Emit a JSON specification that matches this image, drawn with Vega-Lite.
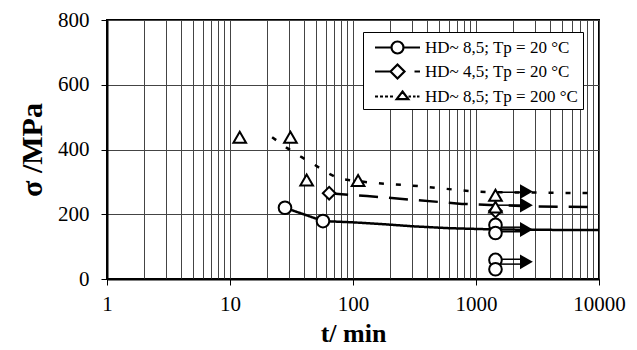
{
  "$schema": "https://vega.github.io/schema/vega-lite/v6.json",
  "autosize": {"type": "none"},
  "padding": {"left": 107, "top": 20, "right": 38, "bottom": 71},
  "width": 492,
  "height": 259,
  "background": "white",
  "config": {
    "view": {"stroke": "black", "strokeWidth": 2},
    "font": "Liberation Serif",
    "axis": {
      "labelFont": "Liberation Serif",
      "labelFontSize": 21,
      "labelColor": "black",
      "titleFont": "Liberation Serif",
      "titleFontWeight": "bold",
      "titleColor": "black",
      "domainColor": "black",
      "domainWidth": 2,
      "tickColor": "black",
      "tickWidth": 1,
      "tickSize": 6,
      "gridColor": "#444444",
      "gridWidth": 1,
      "gridOpacity": 1
    }
  },
  "resolve": {"scale": {"shape": "independent"}},
  "datasets": {
    "curves": [
      {"series": "HD~ 8,5; Tp = 20 °C", "t": 28, "v": 220},
      {"series": "HD~ 8,5; Tp = 20 °C", "t": 57, "v": 179},
      {"series": "HD~ 8,5; Tp = 20 °C", "t": 100, "v": 175},
      {"series": "HD~ 8,5; Tp = 20 °C", "t": 166, "v": 170},
      {"series": "HD~ 8,5; Tp = 20 °C", "t": 300, "v": 163},
      {"series": "HD~ 8,5; Tp = 20 °C", "t": 600, "v": 157},
      {"series": "HD~ 8,5; Tp = 20 °C", "t": 1440, "v": 153},
      {"series": "HD~ 8,5; Tp = 20 °C", "t": 3000, "v": 152},
      {"series": "HD~ 8,5; Tp = 20 °C", "t": 10000, "v": 151},
      {"series": "HD~ 4,5; Tp = 20 °C", "t": 64, "v": 265},
      {"series": "HD~ 4,5; Tp = 20 °C", "t": 130, "v": 256},
      {"series": "HD~ 4,5; Tp = 20 °C", "t": 240, "v": 248},
      {"series": "HD~ 4,5; Tp = 20 °C", "t": 770, "v": 232},
      {"series": "HD~ 4,5; Tp = 20 °C", "t": 1440, "v": 228},
      {"series": "HD~ 4,5; Tp = 20 °C", "t": 3000, "v": 224},
      {"series": "HD~ 4,5; Tp = 20 °C", "t": 10000, "v": 222},
      {"series": "HD~ 8,5; Tp = 200 °C", "t": 22, "v": 438},
      {"series": "HD~ 8,5; Tp = 200 °C", "t": 29, "v": 405},
      {"series": "HD~ 8,5; Tp = 200 °C", "t": 38, "v": 377},
      {"series": "HD~ 8,5; Tp = 200 °C", "t": 49, "v": 352},
      {"series": "HD~ 8,5; Tp = 200 °C", "t": 65, "v": 324},
      {"series": "HD~ 8,5; Tp = 200 °C", "t": 78, "v": 309},
      {"series": "HD~ 8,5; Tp = 200 °C", "t": 145, "v": 297},
      {"series": "HD~ 8,5; Tp = 200 °C", "t": 200, "v": 293},
      {"series": "HD~ 8,5; Tp = 200 °C", "t": 275, "v": 290},
      {"series": "HD~ 8,5; Tp = 200 °C", "t": 385, "v": 285},
      {"series": "HD~ 8,5; Tp = 200 °C", "t": 710, "v": 275},
      {"series": "HD~ 8,5; Tp = 200 °C", "t": 1000, "v": 270},
      {"series": "HD~ 8,5; Tp = 200 °C", "t": 1440, "v": 268},
      {"series": "HD~ 8,5; Tp = 200 °C", "t": 10000, "v": 265}
    ],
    "points": [
      {"series": "HD~ 8,5; Tp = 20 °C", "t": 28, "v": 220},
      {"series": "HD~ 8,5; Tp = 20 °C", "t": 57, "v": 179},
      {"series": "HD~ 8,5; Tp = 20 °C", "t": 1440, "v": 167},
      {"series": "HD~ 8,5; Tp = 20 °C", "t": 1440, "v": 142},
      {"series": "HD~ 8,5; Tp = 20 °C", "t": 1440, "v": 59},
      {"series": "HD~ 8,5; Tp = 20 °C", "t": 1440, "v": 30},
      {"series": "HD~ 4,5; Tp = 20 °C", "t": 64, "v": 265},
      {"series": "HD~ 4,5; Tp = 20 °C", "t": 1440, "v": 210},
      {"series": "HD~ 8,5; Tp = 200 °C", "t": 12, "v": 438},
      {"series": "HD~ 8,5; Tp = 200 °C", "t": 31, "v": 438},
      {"series": "HD~ 8,5; Tp = 200 °C", "t": 42, "v": 306},
      {"series": "HD~ 8,5; Tp = 200 °C", "t": 110, "v": 304},
      {"series": "HD~ 8,5; Tp = 200 °C", "t": 1440, "v": 259},
      {"series": "HD~ 8,5; Tp = 200 °C", "t": 1440, "v": 222}
    ],
    "arrowLines": [
      {"t0": 1440, "t1": 2500, "v": 268},
      {"t0": 1440, "t1": 2500, "v": 228},
      {"t0": 1440, "t1": 2500, "v": 160},
      {"t0": 1440, "t1": 2500, "v": 146},
      {"t0": 1440, "t1": 2500, "v": 61},
      {"t0": 1440, "t1": 2500, "v": 46}
    ],
    "arrowHeads": [
      {"t": 2570, "v": 270},
      {"t": 2570, "v": 228},
      {"t": 2570, "v": 153},
      {"t": 2570, "v": 53}
    ]
  },
  "layer": [
    {
      "data": {"name": "curves"},
      "mark": {"type": "line", "color": "black", "strokeWidth": 2.5, "clip": true},
      "encoding": {
        "x": {
          "field": "t", "type": "quantitative",
          "scale": {"type": "log", "domain": [1, 10000], "nice": false},
          "axis": {
            "title": "t/ min",
            "titleFontSize": 26,
            "values": [1,2,3,4,5,6,7,8,9,10,20,30,40,50,60,70,80,90,100,200,300,400,500,600,700,800,900,1000,2000,3000,4000,5000,6000,7000,8000,9000,10000],
            "labelExpr": "indexof(['1','10','100','1000','10000'], datum.label) >= 0 ? datum.label : ''",
            "format": "d",
            "tickOpacity": {"condition": {"test": "indexof([1,10,100,1000,10000], datum.value) >= 0", "value": 1}, "value": 0},
            "labelPadding": 8,
            "titlePadding": 6,
            "labelFlush": false,
            "labelOverlap": false
          }
        },
        "y": {
          "field": "v", "type": "quantitative",
          "scale": {"domain": [0, 800], "nice": false},
          "axis": {
            "title": "σ /MPa",
            "titleFontSize": 30,
            "values": [0, 200, 400, 600, 800],
            "labelPadding": 12,
            "titlePadding": 10
          }
        },
        "detail": {"field": "series"},
        "strokeDash": {
          "field": "series", "type": "nominal",
          "scale": {
            "range": [[19, 11], [1, 0], [5, 12]]
          },
          "legend": null
        }
      }
    },
    {
      "data": {"name": "arrowLines"},
      "mark": {"type": "rule", "color": "black", "strokeWidth": 1.5},
      "encoding": {
        "x": {"field": "t0", "type": "quantitative"},
        "x2": {"field": "t1"},
        "y": {"field": "v", "type": "quantitative"}
      }
    },
    {
      "data": {"name": "arrowHeads"},
      "mark": {"type": "point", "shape": "triangle-right", "filled": true, "color": "black", "size": 220, "opacity": 1},
      "encoding": {
        "x": {"field": "t", "type": "quantitative"},
        "y": {"field": "v", "type": "quantitative"}
      }
    },
    {
      "data": {"name": "points"},
      "mark": {"type": "point", "filled": false, "fill": "white", "stroke": "black", "strokeWidth": 2, "size": 160, "opacity": 1, "fillOpacity": 1},
      "encoding": {
        "x": {"field": "t", "type": "quantitative"},
        "y": {"field": "v", "type": "quantitative"},
        "shape": {
          "field": "series", "type": "nominal",
          "scale": {"range": ["diamond", "circle", "triangle-up"]},
          "legend": null
        }
      }
    },
    {
      "data": {"name": "points"},
      "mark": {"type": "point", "fill": "white", "stroke": "black", "strokeWidth": 2.2, "size": 400, "opacity": 0},
      "encoding": {
        "x": {"field": "t", "type": "quantitative"},
        "y": {"field": "v", "type": "quantitative"},
        "shape": {
          "field": "series", "type": "nominal",
          "scale": {
            "domain": ["HD~ 8,5; Tp = 20 °C", "HD~ 4,5; Tp = 20 °C", "HD~ 8,5; Tp = 200 °C"],
            "range": [
              "M-2.25,0L-0.6,0M0.6,0L2.25,0M-0.6,0A0.6,0.6 0 1,0 0.6,0A0.6,0.6 0 1,0 -0.6,0Z",
              "M-2.25,0L-0.75,0M1.7,0L2.25,0M-0.7,0L0,-0.7L0.7,0L0,0.7Z",
              "M-2.25,0L-1.95,0M-1.75,0L-1.45,0M-1.25,0L-0.95,0M-0.75,0L-0.45,0M0.5,-0.5L1.08,0.27L-0.08,0.27ZM1.1,0L1.35,0M1.55,0L1.8,0M1.95,0L2.2,0"
            ]
          },
          "legend": {
            "title": null,
            "orient": "none",
            "legendX": 256,
            "legendY": 12,
            "padding": 4,
            "strokeColor": "black",
            "fillColor": "white",
            "symbolSize": 400,
            "rowPadding": 2,
            "symbolOffset": 19,
            "labelOffset": 16,
            "labelFont": "Liberation Serif",
            "labelFontSize": 17,
            "labelColor": "black",
            "labelLimit": 300,
            "symbolStrokeWidth": 2.2,
            "symbolOpacity": 1,
            "encode": {
              "symbols": {
                "update": {
                  "fill": {"value": "white"},
                  "stroke": {"value": "black"},
                  "strokeWidth": {"value": 2.2},
                  "opacity": {"value": 1}
                }
              }
            }
          }
        }
      }
    }
  ]
}
